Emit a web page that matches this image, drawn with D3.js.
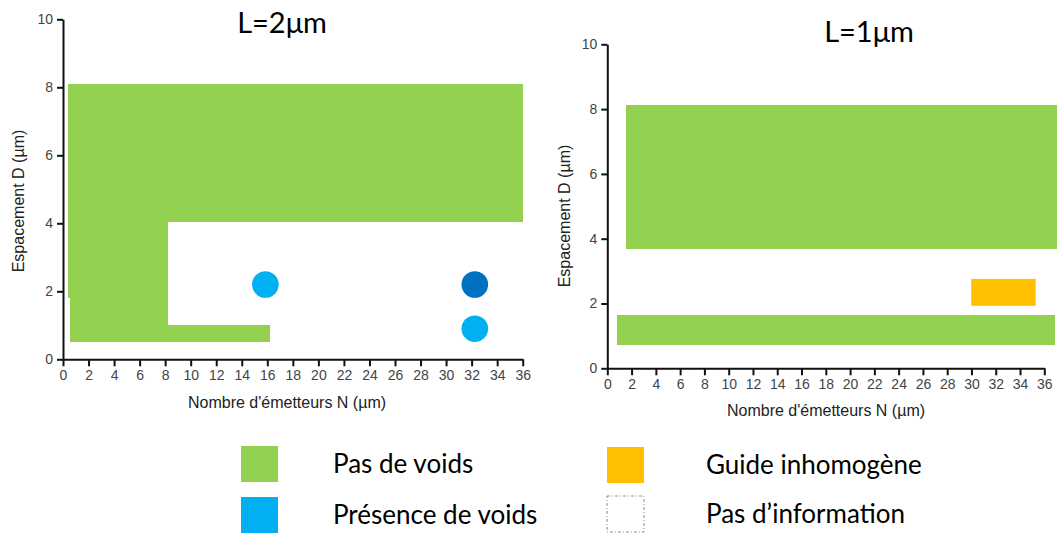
<!DOCTYPE html>
<html><head><meta charset="utf-8">
<script src="https://cdn.jsdelivr.net/npm/d3@7/dist/d3.min.js"></script>
<style>body{margin:0;background:#fff}svg{display:block}</style>
</head><body>
<svg id="c" width="1057" height="534"></svg>
<script>
// ---- data ----
const xTickValues = [0,2,4,6,8,10,12,14,16,18,20,22,24,26,28,30,32,34,36];
const yTickValues = [0,2,4,6,8,10];
const xTitle = "Nombre d'émetteurs N (µm)";
const yTitle = "Espacement D (µm)";
const panelTitles = ["L=2μm", "L=1μm"];
// zones: [N start, N end, D start, D end]
const leftNoVoids = [[0.4,36.05,4.05,8.1],[0.4,8.2,1.8,4.1],[0.55,8.2,0.5,1.85],[8.1,16.2,0.5,1.0]];
const leftVoids = [[15.85,2.2,"light"],[32.25,2.2,"dark"],[32.25,0.9,"light"]]; // [N, D, kind]
const rightNoVoids = [[1.54,37.4,3.67,8.12],[0.82,36.9,0.72,1.645]];
const rightInhomog = [[29.98,35.29,1.93,2.76]];
const legendLabels = ["Pas de voids","Présence de voids","Guide inhomogène","Pas d\u2019information"];

const colors = {green:"#92d050", light:"#00b0f0", dark:"#0070c0", orange:"#ffc000"};

const svg = d3.select("#c");

function panel(cfg){
  const g = svg.append("g");
  const x = d3.scaleLinear().domain([0,36]).range(cfg.xr);
  const y = d3.scaleLinear().domain([0,10]).range(cfg.yr);
  g.selectAll("rect.nv").data(cfg.noVoids).join("rect").attr("class","nv")
    .attr("x",d=>x(d[0])).attr("width",d=>x(d[1])-x(d[0]))
    .attr("y",d=>y(d[3])).attr("height",d=>y(d[2])-y(d[3]))
    .attr("fill",colors.green).attr("shape-rendering","crispEdges");
  g.selectAll("rect.inh").data(cfg.inhomog||[]).join("rect").attr("class","inh")
    .attr("x",d=>x(d[0])).attr("width",d=>x(d[1])-x(d[0]))
    .attr("y",d=>y(d[3])).attr("height",d=>y(d[2])-y(d[3]))
    .attr("fill",colors.orange);
  g.selectAll("circle").data(cfg.voids||[]).join("circle")
    .attr("cx",d=>x(d[0])).attr("cy",d=>y(d[1])).attr("r",13.3)
    .attr("fill",d=>colors[d[2]]);
  const xa = g.append("g").attr("transform",`translate(0,${cfg.yr[0]})`)
    .call(d3.axisBottom(x).tickValues(xTickValues).tickSize(7).tickSizeOuter(0).tickPadding(4));
  const ya = g.append("g").attr("transform",`translate(${cfg.xr[0]},0)`)
    .call(d3.axisLeft(y).tickValues(yTickValues).tickSize(6).tickSizeOuter(0).tickPadding(4));
  [xa,ya].forEach(a=>{
    a.selectAll("path,line").attr("stroke","#111").attr("stroke-width",2);
    a.selectAll("text").attr("fill","#444").style("font-family","'Liberation Sans',Arial,sans-serif").style("font-size","14px");
  });
  g.append("text").attr("x",cfg.titleX).attr("y",cfg.titleY).attr("text-anchor","middle")
    .style("font-family","Lato,'Open Sans',sans-serif").style("font-size","29px").attr("fill","#000")
    .text(cfg.title);
  g.append("text").attr("x",cfg.xtX).attr("y",cfg.xtY).attr("text-anchor","middle")
    .style("font-family","'Liberation Sans',Arial,sans-serif").style("font-size","16px").attr("fill","#222")
    .text(xTitle);
  g.append("text").attr("transform",`translate(${cfg.ytX},${cfg.ytY}) rotate(-90)`).attr("text-anchor","middle")
    .style("font-family","'Liberation Sans',Arial,sans-serif").style("font-size","16px").attr("fill","#222")
    .text(yTitle);
}

panel({xr:[63,522.7], yr:[359.3,19.3], noVoids:leftNoVoids, voids:leftVoids, title:panelTitles[0],
  titleX:282, titleY:33, xtX:287, xtY:408, ytX:24, ytY:201});
panel({xr:[607.3,1044.3], yr:[368.3,44.3], noVoids:rightNoVoids, inhomog:rightInhomog, title:panelTitles[1],
  titleX:869, titleY:42, xtX:826, xtY:416, ytX:570, ytY:216});

// ---- legend ----
const legend = [
  {label:legendLabels[0], fill:colors.green, x:241, y:446},
  {label:legendLabels[1], fill:colors.light, x:241, y:497},
  {label:legendLabels[2], fill:colors.orange, x:607, y:447},
  {label:legendLabels[3], fill:"none", x:607, y:496, dashed:true}
];
const lg = svg.append("g");
legend.forEach(d=>{
  lg.append("rect").attr("x",d.x).attr("y",d.y).attr("width",37).attr("height",36)
    .attr("fill",d.fill)
    .attr("stroke",d.dashed?"#8a8a8a":"none").attr("stroke-width",1)
    .attr("stroke-dasharray",d.dashed?"3,2,1,2":null);
  lg.append("text").attr("x",d.x + (d.x<400?92:99)).attr("y",d.y+18).attr("dy","0.35em")
    .style("font-family","Lato,'Open Sans',sans-serif").style("font-size","26px").attr("fill","#000")
    .text(d.label);
});
</script>
</body></html>
